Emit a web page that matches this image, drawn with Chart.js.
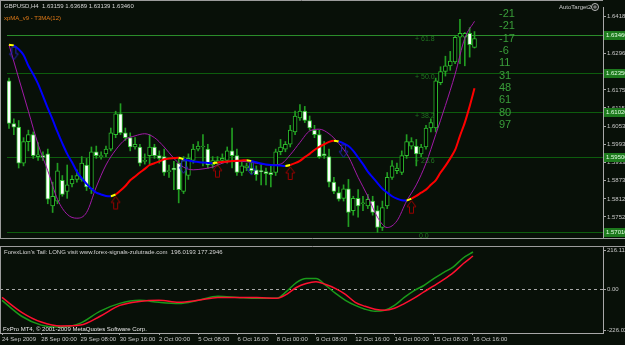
<!DOCTYPE html>
<html>
<head>
<meta charset="utf-8">
<script src="https://cdn.jsdelivr.net/npm/chart.js@4.4.1/dist/chart.umd.min.js"></script>
<style>
html, body { margin: 0; padding: 0; background: #081008; }
#wrap { position: relative; width: 625px; height: 345px; overflow: hidden; }
#priceBox { position: absolute; left: 0; top: 0; width: 625px; height: 245px; }
#oscBox { position: absolute; left: 0; top: 246px; width: 625px; height: 99px; }
</style>
</head>
<body>
<div id="wrap">
  <div id="priceBox"><canvas id="priceChart" width="625" height="245"></canvas></div>
  <div id="oscBox"><canvas id="oscChart" width="625" height="99"></canvas></div>
</div>
<script>
// GBPUSD H4, bars 0..96 (24 Sep 2009 -> 16 Oct 2009 16:00)
const opens = [
  1.6205, 1.6063, 1.6051, 1.5931, 1.6003, 1.6026, 1.5953, 1.5956, 1.5962, 1.5789,
  1.5805, 1.5874, 1.5837, 1.5862, 1.5877, 1.5877, 1.5925, 1.5846, 1.5969, 1.5953,
  1.5962, 1.5978, 1.6026, 1.6095, 1.6032, 1.6016, 1.5985, 1.5985, 1.5937, 1.5956,
  1.5985, 1.5956, 1.5953, 1.5903, 1.5915, 1.5931, 1.5837, 1.5890, 1.5940, 1.5978,
  1.5985, 1.5978, 1.5925, 1.5931, 1.5940, 1.5940, 1.5972, 1.5956, 1.5900, 1.5915,
  1.5915, 1.5909, 1.5906, 1.5903, 1.5900, 1.5900, 1.5969, 1.5978, 1.5994, 1.6035,
  1.6082, 1.6104, 1.6073, 1.6041, 1.6026, 1.5962, 1.5953, 1.5868, 1.5833, 1.5814,
  1.5846, 1.5773, 1.5814, 1.5796, 1.5789, 1.5805, 1.5773, 1.5717, 1.5789, 1.5884,
  1.5906, 1.5900, 1.5956, 1.5988, 1.5988, 1.5962, 1.5985, 1.6048, 1.6048, 1.6199,
  1.6236, 1.6255, 1.6268, 1.6350, 1.6350, 1.6363, 1.6316
];
const highs = [
  1.6214, 1.6079, 1.6073, 1.6016, 1.6041, 1.6035, 1.6000, 1.5969, 1.5978, 1.5868,
  1.5931, 1.5890, 1.5925, 1.5890, 1.5909, 1.5953, 1.5947, 1.5985, 1.5988, 1.5969,
  1.5988, 1.6048, 1.6104, 1.6129, 1.6048, 1.6032, 1.6016, 1.5994, 1.5962, 1.6026,
  1.5994, 1.5972, 1.5978, 1.5925, 1.5937, 1.5947, 1.5953, 1.5962, 1.5994, 1.6003,
  1.6026, 1.5994, 1.5953, 1.5953, 1.5962, 1.5985, 1.6048, 1.5978, 1.5937, 1.5931,
  1.5931, 1.5922, 1.5925, 1.5915, 1.5925, 1.5978, 1.6010, 1.6003, 1.6057, 1.6104,
  1.6126, 1.6120, 1.6088, 1.6057, 1.6041, 1.6003, 1.5978, 1.5884, 1.5852, 1.5859,
  1.5877, 1.5821, 1.5843, 1.5821, 1.5827, 1.5821, 1.5789, 1.5805, 1.5900, 1.5940,
  1.5931, 1.5972, 1.6026, 1.6016, 1.6010, 1.5994, 1.6057, 1.6079, 1.6214, 1.6252,
  1.6287, 1.6303, 1.6356, 1.6410, 1.6366, 1.6382, 1.6369
];
const lows = [
  1.6047, 1.6026, 1.5915, 1.5922, 1.5972, 1.5947, 1.5940, 1.5940, 1.5796, 1.5767,
  1.5796, 1.5821, 1.5814, 1.5852, 1.5868, 1.5871, 1.5840, 1.5830, 1.5947, 1.5944,
  1.5953, 1.5972, 1.6016, 1.6026, 1.6007, 1.5972, 1.5978, 1.5922, 1.5928, 1.5925,
  1.5947, 1.5931, 1.5890, 1.5884, 1.5843, 1.5799, 1.5830, 1.5877, 1.5931, 1.5972,
  1.5922, 1.5915, 1.5915, 1.5922, 1.5931, 1.5931, 1.5915, 1.5890, 1.5890, 1.5906,
  1.5896, 1.5874, 1.5859, 1.5859, 1.5852, 1.5890, 1.5959, 1.5969, 1.5985, 1.6026,
  1.6073, 1.6066, 1.6041, 1.6016, 1.5947, 1.5947, 1.5852, 1.5830, 1.5805, 1.5805,
  1.5720, 1.5758, 1.5751, 1.5773, 1.5780, 1.5758, 1.5701, 1.5707, 1.5780, 1.5877,
  1.5896, 1.5893, 1.5947, 1.5978, 1.5922, 1.5953, 1.5978, 1.6035, 1.6035, 1.6192,
  1.6221, 1.6240, 1.6262, 1.6262, 1.6255, 1.6284, 1.6314
];
const closes = [
  1.6063, 1.6051, 1.5931, 1.6003, 1.6026, 1.5956, 1.5959, 1.5950, 1.5811, 1.5821,
  1.5906, 1.5827, 1.5859, 1.5877, 1.5890, 1.5931, 1.5852, 1.5969, 1.5956, 1.5956,
  1.5978, 1.6032, 1.6095, 1.6032, 1.6016, 1.5985, 1.5994, 1.5931, 1.5940, 1.5985,
  1.5956, 1.5947, 1.5900, 1.5906, 1.5909, 1.5843, 1.5940, 1.5947, 1.5978, 1.5988,
  1.5988, 1.5925, 1.5940, 1.5940, 1.5947, 1.5972, 1.5956, 1.5900, 1.5922, 1.5922,
  1.5906, 1.5893, 1.5903, 1.5896, 1.5893, 1.5969, 1.5985, 1.5994, 1.6041, 1.6088,
  1.6104, 1.6073, 1.6048, 1.6026, 1.5953, 1.5956, 1.5868, 1.5837, 1.5811, 1.5846,
  1.5767, 1.5814, 1.5789, 1.5799, 1.5811, 1.5767, 1.5717, 1.5783, 1.5884, 1.5922,
  1.5915, 1.5956, 1.6003, 1.6003, 1.5962, 1.5985, 1.6048, 1.6066, 1.6205, 1.6236,
  1.6255, 1.6271, 1.6350, 1.6363, 1.6363, 1.6325, 1.6346
];

// T3MA(12), one value per bar
const t3ma = [
  1.6325, 1.6322, 1.6310, 1.6291, 1.6255, 1.6227, 1.6195, 1.6155, 1.6114, 1.6076,
  1.6035, 1.5997, 1.5962, 1.5934, 1.5903, 1.5881, 1.5862, 1.5846, 1.5833, 1.5827,
  1.5822, 1.5821, 1.5827, 1.5840, 1.5855, 1.5874, 1.5887, 1.5900, 1.5912, 1.5925,
  1.5931, 1.5937, 1.5944, 1.5947, 1.5948, 1.5949, 1.5944, 1.5940, 1.5937, 1.5935,
  1.5933, 1.5932, 1.5931, 1.5933, 1.5935, 1.5937, 1.5938, 1.5939, 1.5940, 1.5941,
  1.5938, 1.5934, 1.5930, 1.5927, 1.5925, 1.5924, 1.5923, 1.5922, 1.5925, 1.5931,
  1.5939, 1.5951, 1.5962, 1.5975, 1.5985, 1.5994, 1.6002, 1.6006, 1.6003, 1.5997,
  1.5988, 1.5972, 1.5950, 1.5928, 1.5903, 1.5884, 1.5865, 1.5846, 1.5833, 1.5821,
  1.5813, 1.5808, 1.5807, 1.5813, 1.5822, 1.5833, 1.5843, 1.5859, 1.5874, 1.5900,
  1.5922, 1.5947, 1.5975, 1.6022, 1.6066, 1.6120, 1.6180
];

// xpMA (magenta), read every second bar
const xpmaBars = [0, 2, 4, 6, 8, 10, 12, 14, 16, 18, 20, 22, 24, 26, 28, 30, 32, 34, 36, 38,
  40, 42, 44, 46, 48, 50, 52, 54, 56, 58, 60, 62, 64, 66, 68, 70, 72, 74, 76, 78,
  80, 82, 84, 86, 88, 90, 92, 94, 96];
const xpmaValues = [1.6325, 1.6214, 1.6104, 1.5994, 1.5906, 1.5811, 1.5761, 1.5748, 1.5767, 1.5852,
  1.5925, 1.5975, 1.6010, 1.6022, 1.6029, 1.6016, 1.5985, 1.5947, 1.5918, 1.5909,
  1.5912, 1.5918, 1.5931, 1.5937, 1.5937, 1.5934, 1.5928, 1.5925, 1.5928, 1.5959,
  1.6000, 1.6038, 1.6044, 1.6029, 1.5997, 1.5953, 1.5884, 1.5821, 1.5751, 1.5717,
  1.5739, 1.5805, 1.5859, 1.5931, 1.6026, 1.6123, 1.6227, 1.6347, 1.6403];

const upArrowBars = [22, 43, 58, 83];
const downArrowBars = [1, 36, 50, 69];

const fibLevels = ['0.0', '23.6', '38.2', '50.0', '61.8'];
const fibPrices = [1.5701, 1.5950, 1.6102, 1.6230, 1.6356];
const fibTags = ['1.57010', '1.59500', '1.61020', '1.62350', '1.63460'];

const priceTicks = [1.6418, 1.63565, 1.62965, 1.6235, 1.6175, 1.6115, 1.60535,
  1.59935, 1.59335, 1.58735, 1.5812, 1.5752, 1.5692];

const targetLabels = ['-21', '-21', '-17', '-6', '11', '31', '48', '61', '80', '97'];

// ForexLion's Tail sub-window
const oscBars = [0, 4, 8, 12, 16, 20, 24, 28, 32, 36, 40, 44, 48, 52, 56,
  58, 60, 62, 64, 66, 68, 70, 72, 74, 76, 78, 80, 82, 84, 86, 88, 90, 92, 94, 96];
const tailGreen = [-62, -150, -199, -210, -188, -122, -79, -62, -73, -79, -62, -40, -46, -51, -51,
  -13, 36, 58, 58, 20, -24, -62, -90, -111, -122, -117, -90, -46, -8, 20, 58, 91, 123, 172, 205];
const tailRed = [-46, -128, -182, -204, -199, -150, -90, -68, -62, -73, -62, -46, -46, -46, -51,
  -29, 9, 31, 41, 25, 3, -29, -73, -95, -111, -117, -106, -80, -50, -15, 18, 52, 91, 140, 183];
const oscTicks = [216.116, 0, -226.02];
const oscTickLabels = ['216.116', '0.00', '-226.020'];

const timeBars = [0, 8, 16, 24, 32, 40, 48, 56, 64, 72, 80, 88, 96];
const timeLabels = ['24 Sep 2009', '28 Sep 00:00', '29 Sep 08:00', '30 Sep 16:00', '2 Oct 00:00',
  '5 Oct 08:00', '6 Oct 16:00', '8 Oct 00:00', '9 Oct 08:00', '12 Oct 16:00', '14 Oct 00:00',
  '15 Oct 08:00', '16 Oct 16:00'];

const FONT = 'Liberation Sans';
const X_MIN = -0.41;
const X_MAX = 122.5;

Chart.defaults.font.family = FONT;

function txt(ctx, s, x, y, color, size, align) {
  ctx.font = size + 'px "' + FONT + '"';
  ctx.fillStyle = color;
  ctx.textAlign = align || 'left';
  ctx.textBaseline = 'middle';
  ctx.fillText(s, x, y);
}

function makeArrow(up, color) {
  const c = document.createElement('canvas');
  c.width = 11; c.height = 36;
  const g = c.getContext('2d');
  g.strokeStyle = color;
  g.lineWidth = 1;
  g.beginPath();
  if (up) {
    const pts = [[4.5, 0], [9, 6], [6.5, 6], [6.5, 12.5], [2.5, 12.5], [2.5, 6], [0, 6]];
    pts.forEach((p, k) => k ? g.lineTo(p[0] + 1, p[1] + 20) : g.moveTo(p[0] + 1, p[1] + 20));
  } else {
    const pts = [[2.5, 0], [6.5, 0], [6.5, 6.5], [9, 6.5], [4.5, 12.5], [0, 6.5], [2.5, 6.5]];
    pts.forEach((p, k) => k ? g.lineTo(p[0] + 1, p[1] + 19.5) : g.moveTo(p[0] + 1, p[1] + 19.5));
  }
  g.closePath();
  g.stroke();
  return c;
}

function noPad(s) {
  s.paddingTop = 0; s.paddingBottom = 0; s.paddingLeft = 0; s.paddingRight = 0;
}

function t3Color(ctx) {
  const i = ctx.p0DataIndex;
  const d = t3ma[i + 1] - t3ma[i];
  const prev = i > 0 ? t3ma[i] - t3ma[i - 1] : -d;
  if ((d > 0) !== (prev > 0)) return '#ffff00';
  return d > 0 ? '#ff0000' : '#0000ff';
}

const priceOverlay = {
  id: 'priceOverlay',
  beforeDatasetsDraw(chart) {
    const { ctx, chartArea: a, scales: { y } } = chart;
    ctx.save();
    ctx.lineWidth = 1;
    fibPrices.forEach((p, k) => {
      const py = Math.round(y.getPixelForValue(p)) + 0.5;
      ctx.strokeStyle = k === fibPrices.length - 1 ? '#2a8c2a' : '#0d5c0d';
      ctx.beginPath();
      ctx.moveTo(a.left, py);
      ctx.lineTo(a.right, py);
      ctx.stroke();
      const lbl = fibLevels[k] === '0.0' ? '0.0' : '+ ' + fibLevels[k];
      txt(ctx, lbl, fibLevels[k] === '0.0' ? 419 : 415, py + 4, '#217321', 7);
    });
    ctx.restore();
  },
  afterDraw(chart) {
    const { ctx, chartArea: a, scales: { y } } = chart;
    ctx.save();
    ctx.strokeStyle = '#9c9c9c';
    ctx.lineWidth = 1;
    ctx.beginPath();
    ctx.moveTo(0, 0.5); ctx.lineTo(a.right, 0.5);
    ctx.moveTo(0.5, 0); ctx.lineTo(0.5, a.bottom);
    ctx.moveTo(0, a.bottom + 0.5); ctx.lineTo(625, a.bottom + 0.5);
    ctx.stroke();

    txt(ctx, 'GBPUSD,H4  1.63159 1.63689 1.63139 1.63460', 4, 6, '#d6d6d6', 6);
    txt(ctx, 'xpMA_v9 - T3MA(12)', 4, 18, '#e07a18', 6);
    txt(ctx, 'AutoTarget2', 559, 7, '#c8c8c8', 6);
    ctx.beginPath();
    ctx.arc(595, 7, 3.5, 0, Math.PI * 2);
    ctx.strokeStyle = '#bdbdbd';
    ctx.stroke();
    ctx.beginPath();
    ctx.arc(595, 7, 1.8, 0, Math.PI * 2);
    ctx.fillStyle = '#7a7a7a';
    ctx.fill();

    targetLabels.forEach((s, k) => txt(ctx, s, 499, 14 + k * 12.33, '#3a9e3a', 11));

    fibPrices.forEach((p, k) => {
      const py = Math.round(y.getPixelForValue(p));
      ctx.fillStyle = '#1d7a1d';
      ctx.fillRect(a.right + 1, py - 4, 625 - a.right, 9);
      txt(ctx, fibTags[k], a.right + 3, py + 0.5, '#e4ffe4', 6);
    });
    ctx.restore();
  }
};

const oscOverlay = {
  id: 'oscOverlay',
  beforeDatasetsDraw(chart) {
    const { ctx, chartArea: a, scales: { y } } = chart;
    const py = Math.round(y.getPixelForValue(0)) + 0.5;
    ctx.save();
    ctx.strokeStyle = '#a8a8a8';
    ctx.lineWidth = 1;
    ctx.setLineDash([3, 3]);
    ctx.beginPath();
    ctx.moveTo(a.left, py);
    ctx.lineTo(a.right, py);
    ctx.stroke();
    ctx.restore();
  },
  afterDraw(chart) {
    const { ctx, chartArea: a } = chart;
    ctx.save();
    ctx.strokeStyle = '#9c9c9c';
    ctx.lineWidth = 1;
    ctx.beginPath();
    ctx.moveTo(0, 0.5); ctx.lineTo(625, 0.5);
    ctx.moveTo(0.5, 0); ctx.lineTo(0.5, a.bottom);
    ctx.stroke();
    txt(ctx, "ForexLion's Tail: LONG visit www.forex-signals-zulutrade.com  196.0193 177.2946", 4, 6, '#d6d6d6', 6);
    txt(ctx, 'FxPro MT4, \u00a9 2001-2009 MetaQuotes Software Corp.', 3, 83, '#e8e8e8', 6);
    ctx.restore();
  }
};

const bodyFill = opens.map((o, i) => (closes[i] >= o ? '#000000' : '#ffffff'));

new Chart(document.getElementById('priceChart'), {
  type: 'bar',
  data: {
    datasets: [
      {
        type: 'line',
        data: upArrowBars.map(i => ({ x: i, y: t3ma[i] })),
        showLine: false,
        pointStyle: makeArrow(true, '#9a0000'),
        pointRadius: 6,
        order: 0
      },
      {
        type: 'line',
        data: downArrowBars.map(i => ({ x: i, y: t3ma[i] })),
        showLine: false,
        pointStyle: makeArrow(false, '#2323b4'),
        pointRadius: 6,
        order: 0
      },
      {
        type: 'line',
        data: t3ma.map((v, i) => ({ x: i, y: v })),
        borderWidth: 2,
        borderColor: '#0000ff',
        segment: { borderColor: t3Color },
        pointRadius: 0,
        tension: 0.3,
        order: 1
      },
      {
        type: 'line',
        data: xpmaBars.map((b, k) => ({ x: b, y: xpmaValues[k] })),
        borderWidth: 1,
        borderColor: '#a21aa8',
        pointRadius: 0,
        cubicInterpolationMode: 'monotone',
        order: 2
      },
      {
        data: opens.map((o, i) => ({ x: i, y: [o, closes[i]] })),
        backgroundColor: bodyFill,
        borderColor: '#2dbb2d',
        borderWidth: 1,
        borderSkipped: false,
        barThickness: 4,
        minBarLength: 1,
        grouped: false,
        order: 3
      },
      {
        data: highs.map((h, i) => ({ x: i, y: [lows[i], h] })),
        backgroundColor: '#229e22',
        borderWidth: 0,
        barThickness: 1,
        grouped: false,
        order: 4
      }
    ]
  },
  options: {
    responsive: false,
    animation: false,
    layout: { padding: { top: 0, left: 0, right: 0, bottom: 1 } },
    plugins: { legend: { display: false }, tooltip: { enabled: false } },
    scales: {
      x: { type: 'linear', min: X_MIN, max: X_MAX, display: false, offset: false },
      y: {
        position: 'right',
        min: 1.56821,
        max: 1.64507,
        afterBuildTicks(s) { s.ticks = priceTicks.map(v => ({ value: v })); },
        afterFit(s) { s.width = 22; noPad(s); },
        grid: { drawOnChartArea: false, drawTicks: true, tickLength: 3, color: '#a8a8a8' },
        border: { color: '#a8a8a8' },
        ticks: {
          autoSkip: false,
          padding: 1,
          color: '#c8c8c8',
          font: { size: 6 },
          callback: v => v.toFixed(5)
        }
      }
    }
  },
  plugins: [priceOverlay]
});

new Chart(document.getElementById('oscChart'), {
  type: 'line',
  data: {
    datasets: [
      {
        data: oscBars.map((b, k) => ({ x: b, y: tailRed[k] })),
        borderColor: '#ff1030',
        borderWidth: 1.5,
        pointRadius: 0,
        cubicInterpolationMode: 'monotone',
        order: 0
      },
      {
        data: oscBars.map((b, k) => ({ x: b, y: tailGreen[k] })),
        borderColor: '#1a9a1a',
        borderWidth: 1.5,
        pointRadius: 0,
        cubicInterpolationMode: 'monotone',
        order: 1
      }
    ]
  },
  options: {
    responsive: false,
    animation: false,
    layout: { padding: { top: 1, left: 0, right: 0, bottom: 0 } },
    plugins: { legend: { display: false }, tooltip: { enabled: false } },
    scales: {
      x: {
        type: 'linear',
        min: X_MIN,
        max: X_MAX,
        offset: false,
        afterBuildTicks(s) { s.ticks = timeBars.map(v => ({ value: v })); },
        afterFit(s) { s.height = 12; noPad(s); },
        grid: { drawOnChartArea: false, drawTicks: true, tickLength: 2, color: '#a8a8a8' },
        border: { color: '#a8a8a8' },
        ticks: {
          autoSkip: false,
          maxRotation: 0,
          minRotation: 0,
          align: 'start',
          padding: 1,
          color: '#c8c8c8',
          font: { size: 6 },
          callback: (v, i) => timeLabels[i]
        }
      },
      y: {
        position: 'right',
        min: -242.6,
        max: 232.7,
        afterBuildTicks(s) { s.ticks = oscTicks.map(v => ({ value: v })); },
        afterFit(s) { s.width = 22; noPad(s); },
        grid: { drawOnChartArea: false, drawTicks: true, tickLength: 3, color: '#a8a8a8' },
        border: { color: '#a8a8a8' },
        ticks: {
          autoSkip: false,
          padding: 1,
          color: '#c8c8c8',
          font: { size: 6 },
          callback: (v, i) => oscTickLabels[i]
        }
      }
    }
  },
  plugins: [oscOverlay]
});
</script>
</body>
</html>
